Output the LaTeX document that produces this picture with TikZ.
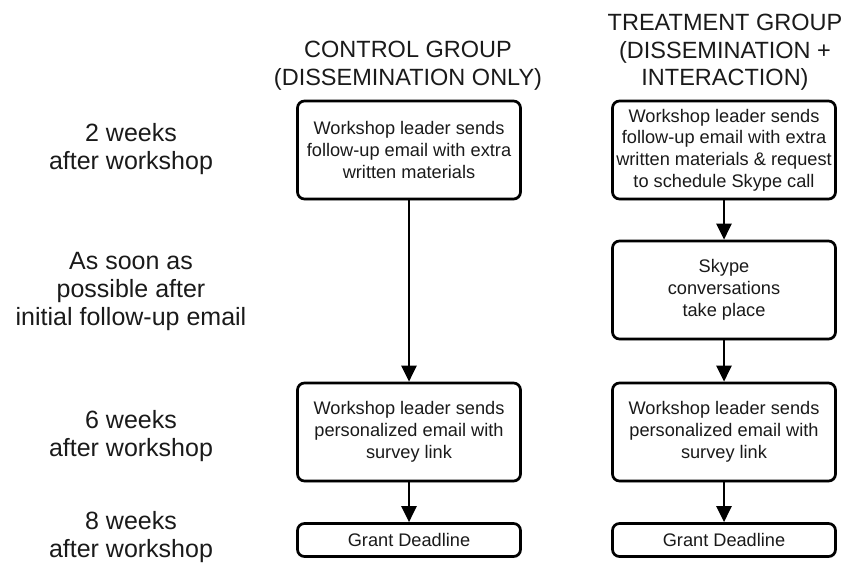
\documentclass[tikz,border=0pt]{standalone}
\usepackage{fontspec}
\setmainfont{Liberation Sans}
\usetikzlibrary{arrows.meta,shadows}
\definecolor{ink}{HTML}{1A1A1A}
\tikzset{
  box/.style={draw=black, line width=2.7pt, rounded corners=7pt, fill=white,
    minimum width=223pt, align=center, inner sep=2pt, text=ink,
    font=\fontsize{18.2}{21.8}\selectfont,
    drop shadow={shadow xshift=1pt, shadow yshift=-1.5pt, opacity=0.25}},
  tall/.style={minimum height=98pt},
  short/.style={minimum height=33pt},
  title/.style={align=center, text=ink, font=\fontsize{23.5}{27.5}\selectfont},
  timelabel/.style={align=center, text=ink, font=\fontsize{25}{28}\selectfont},
  flow/.style={draw=black, line width=2.6pt, -{Triangle[length=16pt,width=15pt]}}
}
\begin{document}
\begin{tikzpicture}[x=1pt,y=-1pt]
\useasboundingbox (0,0) rectangle (842,562);
% titles
\node[title] (ctitle) at (408,65.5) {CONTROL GROUP\\(DISSEMINATION ONLY)};
\node[title] (ttitle) at (725,52.5) {TREATMENT GROUP\\(DISSEMINATION +\\INTERACTION)};
% time labels
\node[timelabel] (l1) at (131,149) {2 weeks\\after workshop};
\node[timelabel] (l2) at (131,291.5) {As soon as\\possible after\\initial follow-up email};
\node[timelabel] (l3) at (131,436) {6 weeks\\after workshop};
\node[timelabel] (l4) at (131,537) {8 weeks\\after workshop};
% control column
\node[box,tall] (c1) at (409,150) {Workshop leader sends\\follow-up email with extra\\written materials};
\node[box,tall] (c2) at (409,432) {Workshop leader sends\\personalized email with\\survey link};
\node[box,short] (c3) at (409,540) {Grant Deadline};
% treatment column
\node[box,tall] (t1) at (724,150) {Workshop leader sends\\follow-up email with extra\\written materials \& request\\to schedule Skype call};
\node[box,tall] (t2) at (724,290) {Skype\\conversations\\take place};
\node[box,tall] (t3) at (724,432) {Workshop leader sends\\personalized email with\\survey link};
\node[box,short] (t4) at (724,540) {Grant Deadline};
% connectors
\draw[flow] (c1) -- (c2);
\draw[flow] (c2) -- (c3);
\draw[flow] (t1) -- (t2);
\draw[flow] (t2) -- (t3);
\draw[flow] (t3) -- (t4);
\end{tikzpicture}
\end{document}
